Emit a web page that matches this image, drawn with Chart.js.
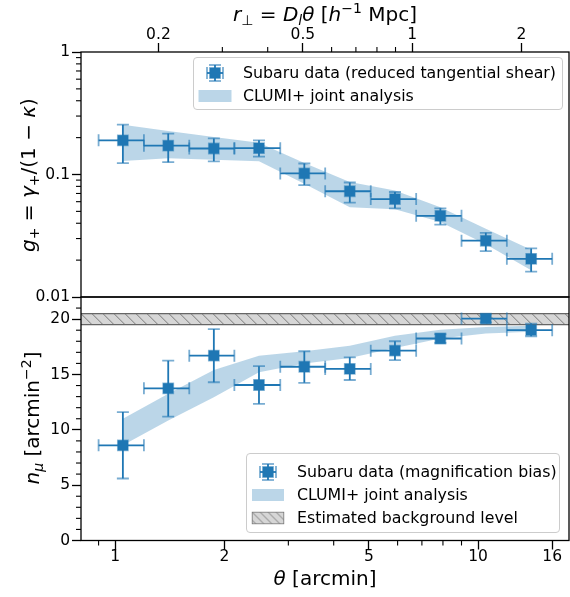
<!DOCTYPE html>
<html>
<head>
<meta charset="utf-8">
<script src="https://cdn.jsdelivr.net/npm/chart.js@4.4.1/dist/chart.umd.min.js"></script>
<style>
  html, body { margin: 0; padding: 0; background: #fff; }
  #wrap { position: relative; width: 570px; height: 597px; font-family: "DejaVu Sans", sans-serif; color: #000; }
  canvas { position: absolute; left: 0; top: 0; }
  .t { position: absolute; white-space: nowrap; line-height: 1; transform: translate(-50%, -50%); font-size: 20px; }
  .rot { transform: translate(-50%, -50%) rotate(-90deg); }
  .t sub, .t sup { font-size: 70%; line-height: 0; }
  .t sub { vertical-align: -0.3em; }
  .t sup { vertical-align: 0.55em; }
  .box { position: absolute; background: rgba(255,255,255,0.8); border: 1px solid #cccccc; border-radius: 4px; box-sizing: border-box; }
  .ltxt { position: absolute; white-space: nowrap; font-size: 15.8px; line-height: 1; transform: translateY(-50%); }
  .icon { position: absolute; transform: translate(-50%, -50%); }
</style>
</head>
<body>
<div id="wrap">
  <canvas id="topChart" width="570" height="597"></canvas>
  <canvas id="botChart" width="570" height="597"></canvas>

  <!-- axis titles -->
  <div class="t" style="left:325px;top:14px"><i>r</i><sub>⊥</sub> = <i>D</i><sub><i>l</i></sub><i>θ</i> [<i>h</i><sup>−1</sup> Mpc]</div>
  <div class="t" style="left:325px;top:578px"><i>θ</i> [arcmin]</div>
  <div class="t rot" style="left:28px;top:175px"><i>g</i><sub>+</sub> = <i>γ</i><sub>+</sub>/(1 − <i>κ</i>)</div>
  <div class="t rot" style="left:32px;top:418px"><i>n</i><sub><i>μ</i></sub> [arcmin<sup>−2</sup>]</div>

  <!-- top legend -->
  <div class="box" style="left:193px;top:57px;width:370px;height:53px"></div>
  <svg class="icon" style="left:215px;top:73px" width="34" height="22" viewBox="0 0 34 22">
    <g stroke="#1f77b4" stroke-width="1.8">
      <line x1="9" y1="11" x2="25" y2="11"/><line x1="17" y1="3" x2="17" y2="19"/>
      <g stroke-opacity="0.6"><line x1="9" y1="5" x2="9" y2="17"/><line x1="25" y1="5" x2="25" y2="17"/>
      <line x1="11" y1="3" x2="23" y2="3"/><line x1="11" y1="19" x2="23" y2="19"/></g>
    </g>
    <rect x="11.8" y="5.8" width="10.4" height="10.4" fill="#1f77b4" stroke="rgba(31,119,180,0.5)" stroke-width="1.5"/>
  </svg>
  <div class="ltxt" style="left:243px;top:73px">Subaru data (reduced tangential shear)</div>
  <div class="icon" style="left:214.5px;top:95.5px;width:33px;height:12px;background:rgba(31,119,180,0.3)"></div>
  <div class="ltxt" style="left:243px;top:96px">CLUMI+ joint analysis</div>

  <!-- bottom legend -->
  <div class="box" style="left:246px;top:453px;width:314px;height:80px"></div>
  <svg class="icon" style="left:268px;top:472px" width="34" height="22" viewBox="0 0 34 22">
    <g stroke="#1f77b4" stroke-width="1.8">
      <line x1="9" y1="11" x2="25" y2="11"/><line x1="17" y1="3" x2="17" y2="19"/>
      <g stroke-opacity="0.6"><line x1="9" y1="5" x2="9" y2="17"/><line x1="25" y1="5" x2="25" y2="17"/>
      <line x1="11" y1="3" x2="23" y2="3"/><line x1="11" y1="19" x2="23" y2="19"/></g>
    </g>
    <rect x="11.8" y="5.8" width="10.4" height="10.4" fill="#1f77b4" stroke="rgba(31,119,180,0.5)" stroke-width="1.5"/>
  </svg>
  <div class="ltxt" style="left:297px;top:472px">Subaru data (magnification bias)</div>
  <div class="icon" style="left:267.5px;top:495px;width:32px;height:12px;background:rgba(31,119,180,0.3)"></div>
  <div class="ltxt" style="left:297px;top:495px">CLUMI+ joint analysis</div>
  <svg class="icon" style="left:267.5px;top:518px" width="33" height="13" viewBox="0 0 33 13">
    <defs><pattern id="hatch" width="8" height="8" patternUnits="userSpaceOnUse">
      <rect width="8" height="8" fill="#d6d6d6"/>
      <path d="M0,0 L8,8 M-4,4 L4,12 M4,-4 L12,4" stroke="#808080" stroke-width="1"/>
    </pattern></defs>
    <rect x="0.6" y="0.6" width="31.8" height="11.8" fill="url(#hatch)" stroke="#777" stroke-width="1"/>
  </svg>
  <div class="ltxt" style="left:297px;top:518px">Estimated background level</div>
</div>

<script>
// ---- angular bins (arcmin) ----
const thetaMid = [1.05, 1.40, 1.87, 2.49, 3.32, 4.43, 5.90, 7.87, 10.5, 14.0];
const thetaLo  = [0.90, 1.20, 1.60, 2.13, 2.85, 3.79, 5.06, 6.75, 9.00, 12.0];
const thetaHi  = [1.20, 1.60, 2.13, 2.85, 3.79, 5.06, 6.75, 9.00, 12.0, 16.0];

// ---- reduced tangential shear ----
const gPlus   = [0.190, 0.172, 0.163, 0.164, 0.102, 0.073, 0.063, 0.046, 0.0288, 0.0205];
const gPlusLo = [0.124, 0.126, 0.128, 0.140, 0.082, 0.059, 0.053, 0.039, 0.0237, 0.0161];
const gPlusHi = [0.255, 0.216, 0.197, 0.190, 0.123, 0.086, 0.072, 0.053, 0.0334, 0.0249];
const gBandLo = [0.129, 0.136, 0.132, 0.128, 0.084, 0.054, 0.052, 0.041, 0.027, 0.0165];
const gBandHi = [0.255, 0.226, 0.202, 0.182, 0.124, 0.087, 0.074, 0.054, 0.036, 0.0243];

// ---- magnification bias ----
const nMu     = [8.6, 13.75, 16.7, 14.05, 15.7, 15.5, 17.15, 18.25, 20.05, 19.0];
const nMuLo   = [5.6, 11.2, 14.3, 12.35, 14.25, 14.5, 16.3, 17.85, 19.7, 18.45];
const nMuHi   = [11.6, 16.25, 19.1, 15.75, 17.1, 16.55, 18.0, 18.65, 20.4, 19.6];
const nBandLo = [8.6, 10.85, 12.95, 15.2, 16.0, 16.5, 17.4, 18.25, 18.7, 18.85];
const nBandHi = [11.0, 13.25, 15.4, 16.7, 17.1, 17.6, 18.5, 19.05, 19.3, 19.4];
const bgLevel = [19.5, 20.5];

// ---- axes ----
const THETA_MIN = 0.805, THETA_MAX = 17.8;
const D_L = 0.152;                       // h^-1 Mpc per arcmin
const thetaMajor = [1, 2, 5, 10, 16];
const thetaMinor = [0.9, 3, 4, 6, 7, 8, 9];
const rMajor = [0.2, 0.5, 1, 2];
const rMinor = [0.3, 0.4, 0.6, 0.7, 0.8, 0.9];
const gMajor = [0.01, 0.1, 1];
const gMinor = [0.02, 0.03, 0.04, 0.05, 0.06, 0.07, 0.08, 0.09, 0.2, 0.3, 0.4, 0.5, 0.6, 0.7, 0.8, 0.9];
const nMajor = [0, 5, 10, 15, 20];
const nMinor = [1, 2, 3, 4, 6, 7, 8, 9, 11, 12, 13, 14, 16, 17, 18, 19, 21];

const BLUE = '#1f77b4';
const BAND = 'rgba(31,119,180,0.3)';
const FONT = { family: 'DejaVu Sans', size: 15.5 };

/* error bars, drawn just under the marker dataset (index 0) */
const errorBars = {
  id: 'errorBars',
  beforeDatasetDraw(chart, args, opts) {
    if (args.index !== 0) return;
    const { ctx } = chart;
    const xs = chart.scales.x, ys = chart.scales.y;
    const cap = 6;
    ctx.save();
    ctx.lineWidth = 1.8;
    opts.x.forEach((xv, i) => {
      const px = xs.getPixelForValue(xv), py = ys.getPixelForValue(opts.y[i]);
      const x0 = xs.getPixelForValue(opts.xLo[i]), x1 = xs.getPixelForValue(opts.xHi[i]);
      const y0 = ys.getPixelForValue(opts.yLo[i]), y1 = ys.getPixelForValue(opts.yHi[i]);
      ctx.strokeStyle = BLUE;
      ctx.beginPath();
      ctx.moveTo(x0, py); ctx.lineTo(x1, py);
      ctx.moveTo(px, y0); ctx.lineTo(px, y1);
      ctx.stroke();
      ctx.strokeStyle = 'rgba(31,119,180,0.6)';
      ctx.beginPath();
      ctx.moveTo(x0, py - cap); ctx.lineTo(x0, py + cap);
      ctx.moveTo(x1, py - cap); ctx.lineTo(x1, py + cap);
      ctx.moveTo(px - cap, y0); ctx.lineTo(px + cap, y0);
      ctx.moveTo(px - cap, y1); ctx.lineTo(px + cap, y1);
      ctx.stroke();
    });
    ctx.restore();
  }
};

/* frame + minor ticks */
const axisDecor = {
  id: 'axisDecor',
  afterDraw(chart, args, opts) {
    const { ctx, chartArea: a } = chart;
    ctx.save();
    ctx.strokeStyle = '#000';
    ctx.lineWidth = 1.1;
    (opts.minor || []).forEach(m => {
      const sc = chart.scales[m.axis];
      m.values.forEach(v => {
        const p = sc.getPixelForValue(v);
        ctx.beginPath();
        if (sc.position === 'left') { ctx.moveTo(a.left, p); ctx.lineTo(a.left - 5, p); }
        else if (sc.position === 'top') { ctx.moveTo(p, a.top); ctx.lineTo(p, a.top - 5); }
        else { ctx.moveTo(p, a.bottom); ctx.lineTo(p, a.bottom + 5); }
        ctx.stroke();
      });
    });
    ctx.lineWidth = 1.3;
    ctx.strokeRect(a.left, a.top, a.right - a.left, a.bottom - a.top);
    ctx.restore();
  }
};

/* hatched background band */
const bgBand = {
  id: 'bgBand',
  beforeDatasetsDraw(chart, args, opts) {
    const { ctx, chartArea: a } = chart;
    const ys = chart.scales.y;
    const yTop = ys.getPixelForValue(opts.range[1]);
    const yBot = ys.getPixelForValue(opts.range[0]);
    const h = yBot - yTop;
    ctx.save();
    ctx.beginPath();
    ctx.rect(a.left, yTop, a.right - a.left, h);
    ctx.clip();
    ctx.fillStyle = '#d6d6d6';
    ctx.fillRect(a.left, yTop, a.right - a.left, h);
    ctx.strokeStyle = '#7a7a7a';
    ctx.lineWidth = 1;
    ctx.beginPath();
    for (let x = a.left - h; x < a.right + h; x += 11) {
      ctx.moveTo(x, yTop); ctx.lineTo(x + h, yBot);
    }
    ctx.stroke();
    ctx.restore();
    ctx.save();
    ctx.strokeStyle = '#666';
    ctx.lineWidth = 1.3;
    ctx.beginPath();
    ctx.moveTo(a.left, yTop); ctx.lineTo(a.right, yTop);
    ctx.moveTo(a.left, yBot); ctx.lineTo(a.right, yBot);
    ctx.stroke();
    ctx.restore();
  }
};

function pts(ys) {
  return thetaMid.map((t, i) => ({ x: t, y: ys[i] }));
}

function setTicks(values) {
  return scale => { scale.ticks = values.map(v => ({ value: v })); };
}

// fixed axis thickness, no extra label overhang padding
function fixSize(prop, size) {
  return s => {
    s[prop] = size;
    s.paddingLeft = 0; s.paddingRight = 0; s.paddingTop = 0; s.paddingBottom = 0;
  };
}

const tickGrid = { display: true, drawOnChartArea: false, drawTicks: true, tickLength: 9, tickWidth: 1.3, tickColor: '#000' };

function markerSet(label, ys) {
  return {
    label, data: pts(ys),
    pointStyle: 'rect', pointRadius: 7.3,
    backgroundColor: BLUE, borderColor: 'rgba(31,119,180,0.5)', borderWidth: 1.5
  };
}

function bandSets(lo, hi) {
  return [
    { label: 'band lo', data: pts(lo), showLine: true, borderColor: 'rgba(0,0,0,0)', borderWidth: 0, pointRadius: 0, fill: false },
    { label: 'CLUMI+ joint analysis', data: pts(hi), showLine: true, borderColor: 'rgba(0,0,0,0)', borderWidth: 0, pointRadius: 0, fill: '-1', backgroundColor: BAND }
  ];
}

// -------- shear panel --------
new Chart(document.getElementById('topChart'), {
  type: 'scatter',
  data: { datasets: [markerSet('Subaru data (reduced tangential shear)', gPlus), ...bandSets(gBandLo, gBandHi)] },
  options: {
    responsive: false, animation: false, events: [],
    layout: { autoPadding: false, padding: { left: 0, right: 1, top: 0, bottom: 300 } },
    plugins: {
      legend: { display: false }, tooltip: { enabled: false },
      errorBars: { x: thetaMid, y: gPlus, xLo: thetaLo, xHi: thetaHi, yLo: gPlusLo, yHi: gPlusHi },
      axisDecor: { minor: [{ axis: 'y', values: gMinor }, { axis: 'x2', values: rMinor }] }
    },
    scales: {
      x: { type: 'logarithmic', min: THETA_MIN, max: THETA_MAX, display: false },
      x2: {
        type: 'logarithmic', position: 'top',
        min: THETA_MIN * D_L, max: THETA_MAX * D_L,
        afterFit: fixSize('height', 52),
        afterBuildTicks: setTicks(rMajor),
        ticks: { callback: v => String(v), font: FONT, color: '#000', maxRotation: 0, autoSkip: false, padding: -1 },
        grid: tickGrid, border: { display: false }
      },
      y: {
        type: 'logarithmic', min: 0.01, max: 1,
        afterFit: fixSize('width', 81),
        afterBuildTicks: setTicks(gMajor),
        ticks: { callback: v => String(v), font: FONT, color: '#000', autoSkip: false, padding: 2 },
        grid: tickGrid, border: { display: false }
      }
    }
  },
  plugins: [errorBars, axisDecor]
});

// -------- magnification panel --------
new Chart(document.getElementById('botChart'), {
  type: 'scatter',
  data: { datasets: [markerSet('Subaru data (magnification bias)', nMu), ...bandSets(nBandLo, nBandHi)] },
  options: {
    responsive: false, animation: false, events: [],
    layout: { autoPadding: false, padding: { left: 0, right: 1, top: 297, bottom: 0 } },
    plugins: {
      legend: { display: false }, tooltip: { enabled: false },
      bgBand: { range: bgLevel },
      errorBars: { x: thetaMid, y: nMu, xLo: thetaLo, xHi: thetaHi, yLo: nMuLo, yHi: nMuHi },
      axisDecor: { minor: [{ axis: 'y', values: nMinor }, { axis: 'x', values: thetaMinor }] }
    },
    scales: {
      x: {
        type: 'logarithmic', min: THETA_MIN, max: THETA_MAX,
        afterFit: fixSize('height', 56.5),
        afterBuildTicks: setTicks(thetaMajor),
        ticks: { callback: v => String(v), font: FONT, color: '#000', maxRotation: 0, autoSkip: false, padding: -2 },
        grid: tickGrid, border: { display: false }
      },
      y: {
        type: 'linear', min: 0, max: 22,
        afterFit: fixSize('width', 81),
        afterBuildTicks: setTicks(nMajor),
        ticks: { callback: v => String(v), font: FONT, color: '#000', autoSkip: false, padding: 2 },
        grid: tickGrid, border: { display: false }
      }
    }
  },
  plugins: [bgBand, errorBars, axisDecor]
});
</script>
</body>
</html>
